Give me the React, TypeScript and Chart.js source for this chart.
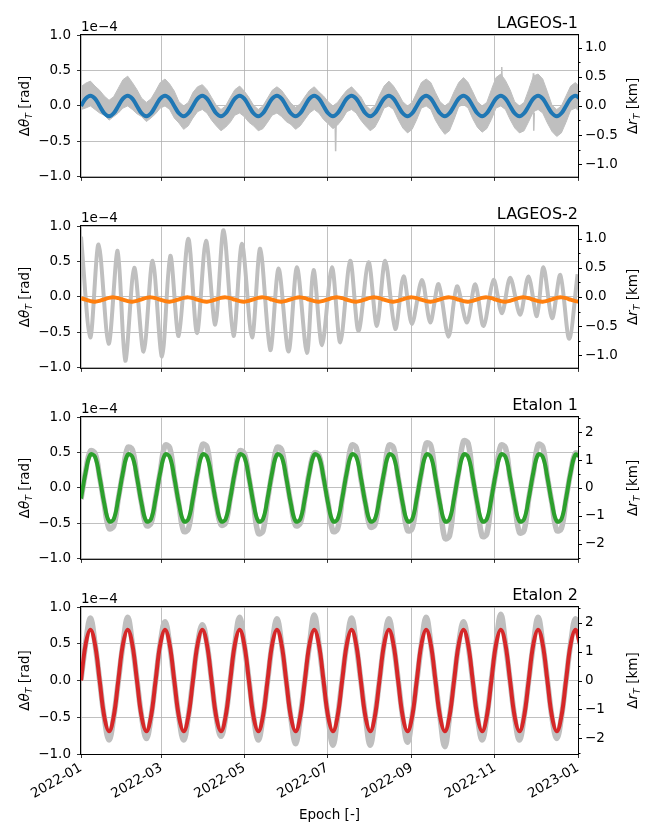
import { useEffect, useRef } from "react";
import { Chart, registerables } from "chart.js";

Chart.register(...registerables);

const FONT = '"DejaVu Sans", sans-serif';
const FS = 13.5;
const GRAY = "#bfbfbf";
const GRID = "#b0b0b0";

// x values are days since 2022-01-01, y values are in units of 1e-4 rad
const sampleDays = [
  0, 3.4, 6.9, 10.3, 13.7, 17.1, 20.6, 24.0,
  27.4, 30.8, 34.3, 37.7, 41.1, 44.5, 48.0, 51.4,
  54.8, 58.2, 61.7, 65.1, 68.5, 71.9, 75.4, 78.8,
  82.2, 85.6, 89.1, 92.5, 95.9, 99.3, 102.8, 106.2,
  109.6, 113.0, 116.5, 119.9, 123.3, 126.7, 130.2, 133.6,
  137.0, 140.4, 143.9, 147.3, 150.7, 154.1, 157.6, 161.0,
  164.4, 167.8, 171.3, 174.7, 178.1, 181.5, 185.0, 188.4,
  191.8, 195.2, 198.7, 202.1, 205.5, 208.9, 212.4, 215.8,
  219.2, 222.6, 226.1, 229.5, 232.9, 236.3, 239.8, 243.2,
  246.6, 250.0, 253.5, 256.9, 260.3, 263.7, 267.2, 270.6,
  274.0, 277.4, 280.9, 284.3, 287.7, 291.1, 294.6, 298.0,
  301.4, 304.8, 308.3, 311.7, 315.1, 318.5, 322.0, 325.4,
  328.8, 332.2, 335.7, 339.1, 342.5, 345.9, 349.4, 352.8,
  356.2, 359.6, 363.1, 366.5,
];

const xTickDays = [0, 59, 120, 181, 243, 304, 365];
const xTickLabels = ["2022-01", "2022-03", "2022-05", "2022-07", "2022-09", "2022-11", "2023-01"];
const leftTicks = [-1, -0.5, 0, 0.5, 1];
const lageosRightMajor = [-1, -0.5, 0, 0.5, 1];
const lageosRightMinor = [-0.75, -0.25, 0.25, 0.75];
const etalonRightMajor = [-2, -1, 0, 1, 2];
const etalonRightMinor = [-2.5, -1.5, -0.5, 0.5, 1.5, 2.5];

// LAGEOS-1
const lageos1Fit = [
  0, 0.103, 0.145, 0.103, 0, -0.103, -0.145, -0.103,
  0, 0.103, 0.145, 0.103, 0, -0.103, -0.145, -0.103,
  0, 0.103, 0.145, 0.103, 0, -0.103, -0.145, -0.103,
  0, 0.103, 0.145, 0.103, 0, -0.103, -0.145, -0.103,
  0, 0.103, 0.145, 0.103, 0, -0.103, -0.145, -0.103,
  0, 0.103, 0.145, 0.103, 0, -0.103, -0.145, -0.103,
  0, 0.103, 0.145, 0.103, 0, -0.103, -0.145, -0.103,
  0, 0.103, 0.145, 0.103, 0, -0.103, -0.145, -0.103,
  0, 0.103, 0.145, 0.103, 0, -0.103, -0.145, -0.103,
  0, 0.103, 0.145, 0.103, 0, -0.103, -0.145, -0.103,
  0, 0.103, 0.145, 0.103, 0, -0.103, -0.145, -0.103,
  0, 0.103, 0.145, 0.103, 0, -0.103, -0.145, -0.103,
  0, 0.103, 0.145, 0.103, 0, -0.103, -0.145, -0.103,
  0, 0.103, 0.145, 0.103,
];
const lageos1Upper = [
  0.27, 0.32, 0.35, 0.28, 0.22, 0.14, 0.08, 0.13,
  0.25, 0.37, 0.42, 0.33, 0.23, 0.11, 0.05, 0.10,
  0.21, 0.33, 0.38, 0.31, 0.21, 0.06, 0.00, 0.05,
  0.19, 0.27, 0.30, 0.23, 0.12, 0.01, -0.05, 0.00,
  0.12, 0.23, 0.28, 0.21, 0.12, 0.01, -0.05, 0.00,
  0.11, 0.22, 0.27, 0.22, 0.13, 0.04, -0.02, 0.03,
  0.13, 0.22, 0.27, 0.20, 0.14, 0.06, 0.00, 0.05,
  0.14, 0.22, 0.27, 0.20, 0.13, 0.01, -0.05, 0.00,
  0.15, 0.28, 0.35, 0.28, 0.18, 0.06, 0.00, 0.05,
  0.19, 0.33, 0.38, 0.33, 0.19, 0.06, 0.00, 0.05,
  0.20, 0.33, 0.40, 0.33, 0.20, 0.06, 0.00, 0.05,
  0.23, 0.40, 0.45, 0.36, 0.23, 0.06, 0.00, 0.05,
  0.23, 0.42, 0.45, 0.38, 0.20, 0.01, -0.05, 0.00,
  0.14, 0.28, 0.33, 0.26,
];
const lageos1Lower = [
  -0.05, -0.03, 0.00, -0.05, -0.10, -0.13, -0.20, -0.15,
  -0.10, -0.03, 0.00, -0.05, -0.11, -0.15, -0.22, -0.17,
  -0.11, -0.03, 0.00, -0.05, -0.17, -0.24, -0.33, -0.28,
  -0.17, -0.08, -0.05, -0.10, -0.20, -0.28, -0.35, -0.30,
  -0.23, -0.13, -0.10, -0.15, -0.23, -0.28, -0.35, -0.32,
  -0.23, -0.13, -0.10, -0.15, -0.22, -0.26, -0.33, -0.28,
  -0.19, -0.10, -0.05, -0.10, -0.19, -0.25, -0.32, -0.27,
  -0.19, -0.08, -0.05, -0.10, -0.20, -0.28, -0.35, -0.30,
  -0.18, -0.03, 0.00, -0.05, -0.19, -0.31, -0.38, -0.33,
  -0.19, -0.03, 0.00, -0.05, -0.20, -0.31, -0.40, -0.35,
  -0.19, -0.01, 0.02, -0.03, -0.18, -0.30, -0.37, -0.32,
  -0.19, -0.03, 0.00, -0.05, -0.19, -0.31, -0.38, -0.35,
  -0.22, -0.08, -0.05, -0.10, -0.24, -0.36, -0.43, -0.38,
  -0.23, -0.06, -0.03, -0.08,
];
const lageos1SpikeDays = [186.6, 187.0, 187.4, 187.5, 308.6, 309.0, 309.4, 309.5, 331.8, 332.2, 332.5, 332.9];
const lageos1SpikeVals = [-0.15, -0.64, -0.2, null, 0.3, 0.55, 0.3, null, 0.1, 0.46, -0.35, -0.1];

// LAGEOS-2
const lageos2Fit = [
  -0.017, -0.039, -0.059, -0.066, -0.055, -0.033, -0.013, -0.006,
  -0.017, -0.039, -0.059, -0.066, -0.055, -0.033, -0.013, -0.006,
  -0.017, -0.039, -0.059, -0.066, -0.055, -0.033, -0.013, -0.006,
  -0.017, -0.039, -0.059, -0.066, -0.055, -0.033, -0.013, -0.006,
  -0.017, -0.039, -0.059, -0.066, -0.055, -0.033, -0.013, -0.006,
  -0.017, -0.039, -0.059, -0.066, -0.055, -0.033, -0.013, -0.006,
  -0.017, -0.039, -0.059, -0.066, -0.055, -0.033, -0.013, -0.006,
  -0.017, -0.039, -0.059, -0.066, -0.055, -0.033, -0.013, -0.006,
  -0.017, -0.039, -0.059, -0.066, -0.055, -0.033, -0.013, -0.006,
  -0.017, -0.039, -0.059, -0.066, -0.055, -0.033, -0.013, -0.006,
  -0.017, -0.039, -0.059, -0.066, -0.055, -0.033, -0.013, -0.006,
  -0.017, -0.039, -0.059, -0.066, -0.055, -0.033, -0.013, -0.006,
  -0.017, -0.039, -0.059, -0.066, -0.055, -0.033, -0.013, -0.006,
  -0.017, -0.039, -0.059, -0.066,
];
const lageos2ResidDays = [
  0, 6.8, 12.9, 20.3, 26.9, 32.5, 39.1, 46.0, 52.6, 59.5, 65.6, 71.7, 78.8, 85.2,
  91.8, 98.6, 104.7, 112.0, 118.2, 125.6, 131.6, 139.0, 145.1, 152.4, 158.6, 165.9,
  170.8, 177.0, 184.3, 190.4, 197.7, 203.8, 211.2, 217.3, 223.4, 230.8, 236.9, 243.0,
  250.4, 256.5, 262.6, 269.9, 276.1, 283.4, 289.5, 295.6, 303.0, 309.1, 315.2, 322.5,
  328.6, 334.8, 339.6, 346.0, 352.0, 358.5, 364.7,
];
const lageos2ResidVals = [
  0.85, -0.57, 0.74, -0.66, 0.65, -0.9, 0.41, -0.77, 0.51, -0.84, 0.58, -0.55, 0.82, -0.51,
  0.79, -0.39, 0.94, -0.55, 0.75, -0.57, 0.68, -0.75, 0.40, -0.77, 0.42, -0.79,
  0.38, -0.68, 0.42, -0.64, 0.51, -0.48, 0.49, -0.41, 0.51, -0.45, 0.29, -0.38,
  0.24, -0.36, 0.18, -0.56, 0.15, -0.36, 0.18, -0.41, 0.24, -0.23, 0.27, -0.25,
  0.29, -0.27, 0.42, -0.30, 0.31, -0.59, 0.32,
];

// Etalon 1
const etalon1Fit = [
  -0.15, 0.22, 0.47, 0.44, 0.15, -0.22, -0.47, -0.44,
  -0.15, 0.22, 0.47, 0.44, 0.15, -0.22, -0.47, -0.44,
  -0.15, 0.22, 0.47, 0.44, 0.15, -0.22, -0.47, -0.44,
  -0.15, 0.22, 0.47, 0.44, 0.15, -0.22, -0.47, -0.44,
  -0.15, 0.22, 0.47, 0.44, 0.15, -0.22, -0.47, -0.44,
  -0.15, 0.22, 0.47, 0.44, 0.15, -0.22, -0.47, -0.44,
  -0.15, 0.22, 0.47, 0.44, 0.15, -0.22, -0.47, -0.44,
  -0.15, 0.22, 0.47, 0.44, 0.15, -0.22, -0.47, -0.44,
  -0.15, 0.22, 0.47, 0.44, 0.15, -0.22, -0.47, -0.44,
  -0.15, 0.22, 0.47, 0.44, 0.15, -0.22, -0.47, -0.44,
  -0.15, 0.22, 0.47, 0.44, 0.15, -0.22, -0.47, -0.44,
  -0.15, 0.22, 0.47, 0.44, 0.15, -0.22, -0.47, -0.44,
  -0.15, 0.22, 0.47, 0.44, 0.15, -0.22, -0.47, -0.44,
  -0.15, 0.22, 0.47, 0.44,
];
const etalon1Resid = [
  -0.16, 0.23, 0.52, 0.49, 0.15, -0.23, -0.57, -0.54,
  -0.15, 0.22, 0.57, 0.54, 0.16, -0.22, -0.53, -0.50,
  -0.14, 0.23, 0.60, 0.57, 0.15, -0.23, -0.61, -0.58,
  -0.16, 0.22, 0.61, 0.58, 0.14, -0.22, -0.52, -0.49,
  -0.15, 0.21, 0.52, 0.49, 0.15, -0.23, -0.64, -0.61,
  -0.17, 0.22, 0.57, 0.54, 0.16, -0.22, -0.53, -0.50,
  -0.15, 0.23, 0.49, 0.46, 0.15, -0.21, -0.61, -0.58,
  -0.16, 0.22, 0.60, 0.57, 0.14, -0.22, -0.55, -0.52,
  -0.15, 0.21, 0.60, 0.57, 0.15, -0.23, -0.60, -0.57,
  -0.16, 0.22, 0.63, 0.60, 0.16, -0.24, -0.71, -0.68,
  -0.17, 0.23, 0.66, 0.63, 0.15, -0.23, -0.68, -0.65,
  -0.16, 0.22, 0.60, 0.57, 0.14, -0.22, -0.63, -0.60,
  -0.15, 0.21, 0.61, 0.58, 0.15, -0.22, -0.60, -0.57,
  -0.16, 0.22, 0.49, 0.46,
];

// Etalon 2
const etalon2Fit = [
  0, 0.49, 0.69, 0.49, 0, -0.49, -0.69, -0.49,
  0, 0.49, 0.69, 0.49, 0, -0.49, -0.69, -0.49,
  0, 0.49, 0.69, 0.49, 0, -0.49, -0.69, -0.49,
  0, 0.49, 0.69, 0.49, 0, -0.49, -0.69, -0.49,
  0, 0.49, 0.69, 0.49, 0, -0.49, -0.69, -0.49,
  0, 0.49, 0.69, 0.49, 0, -0.49, -0.69, -0.49,
  0, 0.49, 0.69, 0.49, 0, -0.49, -0.69, -0.49,
  0, 0.49, 0.69, 0.49, 0, -0.49, -0.69, -0.49,
  0, 0.49, 0.69, 0.49, 0, -0.49, -0.69, -0.49,
  0, 0.49, 0.69, 0.49, 0, -0.49, -0.69, -0.49,
  0, 0.49, 0.69, 0.49, 0, -0.49, -0.69, -0.49,
  0, 0.49, 0.69, 0.49, 0, -0.49, -0.69, -0.49,
  0, 0.49, 0.69, 0.49, 0, -0.49, -0.69, -0.49,
  0, 0.49, 0.69, 0.49,
];
const etalon2Resid = [
  0.01, 0.50, 0.85, 0.50, 0, -0.50, -0.81, -0.50,
  -0.01, 0.49, 0.86, 0.50, 0.01, -0.49, -0.79, -0.50,
  0, 0.50, 0.80, 0.49, -0.01, -0.50, -0.81, -0.49,
  0.01, 0.49, 0.76, 0.50, 0, -0.50, -0.76, -0.50,
  0, 0.50, 0.86, 0.49, 0.01, -0.49, -0.81, -0.50,
  -0.01, 0.50, 0.84, 0.50, 0, -0.50, -0.86, -0.49,
  0, 0.49, 0.89, 0.50, -0.01, -0.50, -0.88, -0.50,
  0.01, 0.50, 0.85, 0.49, 0, -0.49, -0.88, -0.50,
  0, 0.50, 0.84, 0.50, 0.01, -0.50, -0.84, -0.49,
  -0.01, 0.49, 0.86, 0.50, 0, -0.50, -0.90, -0.50,
  0, 0.50, 0.80, 0.49, -0.01, -0.49, -0.81, -0.50,
  0.01, 0.50, 0.90, 0.50, 0, -0.50, -0.81, -0.49,
  0, 0.49, 0.86, 0.50, 0.01, -0.50, -0.79, -0.50,
  0, 0.50, 0.84, 0.50,
];

const pts = (xs: number[], ys: (number | null)[]) => xs.map((x, i) => ({ x, y: ys[i] }));

const fmt = (v: number, digits: number) => (v < 0 ? "\u2212" : "") + Math.abs(v).toFixed(digits);

const fitLine = (data: number[], color: string) => ({
  data: pts(sampleDays, data),
  borderColor: color,
  borderWidth: 4,
  tension: 0.4,
  order: 0,
  clip: 0,
});

const grayLine = (xs: number[], ys: (number | null)[], width: number, tension: number) => ({
  data: pts(xs, ys),
  borderColor: GRAY,
  borderWidth: width,
  tension,
  order: 1,
  clip: 0,
});

type Part = { t: string; it?: boolean; sub?: boolean };

// mathtext-like rotated label, baseline at screen x = bx
function drawRotatedMath(ctx: CanvasRenderingContext2D, parts: Part[], bx: number, cy: number, size: number) {
  const fontOf = (p: Part) => `${p.it ? "italic " : ""}${p.sub ? size * 0.7 : size}px ${FONT}`;
  let total = 0;
  const widths = parts.map((p) => {
    ctx.font = fontOf(p);
    const w = ctx.measureText(p.t).width;
    total += w;
    return w;
  });
  ctx.save();
  ctx.translate(bx, cy);
  ctx.rotate(-Math.PI / 2);
  ctx.textAlign = "left";
  ctx.textBaseline = "alphabetic";
  let x = -total / 2;
  parts.forEach((p, i) => {
    ctx.font = fontOf(p);
    ctx.fillText(p.t, x, p.sub ? size * 0.22 : 0);
    x += widths[i];
  });
  ctx.restore();
}

interface PanelProps {
  name: string;
  datasets: any[];
  rightMax: number;
  rightMajor: number[];
  rightMinor: number[];
  rightDigits: number;
  bottom: boolean;
  top: number;
  height: number;
}

function Panel(props: PanelProps) {
  const canvasRef = useRef<HTMLCanvasElement | null>(null);

  useEffect(() => {
    if (!canvasRef.current) return;
    const p = props;
    const rightAll = [...p.rightMajor, ...p.rightMinor].sort((a, b) => a - b);

    const framePlugin = {
      id: "frame",
      afterDraw(chart: any) {
        const { ctx, chartArea: a } = chart;
        const ys = chart.scales.y2;
        ctx.save();
        ctx.strokeStyle = "#000";
        ctx.lineWidth = 1;
        ctx.beginPath();
        p.rightMajor.forEach((v) => {
          const y = Math.round(ys.getPixelForValue(v)) + 0.5;
          ctx.moveTo(a.right, y);
          ctx.lineTo(a.right + 4, y);
        });
        p.rightMinor.forEach((v) => {
          const y = Math.round(ys.getPixelForValue(v)) + 0.5;
          ctx.moveTo(a.right, y);
          ctx.lineTo(a.right + 2.5, y);
        });
        ctx.stroke();
        ctx.strokeRect(a.left - 0.5, a.top - 0.5, a.right - a.left + 1, a.bottom - a.top + 1);

        ctx.fillStyle = "#000";
        ctx.textBaseline = "alphabetic";
        ctx.font = `16px ${FONT}`;
        ctx.textAlign = "right";
        ctx.fillText(p.name, a.right, a.top - 7);
        ctx.font = `${FS}px ${FONT}`;
        ctx.textAlign = "left";
        ctx.fillText("1e\u22124", a.left, a.top - 4);
        const cy = (a.top + a.bottom) / 2;
        drawRotatedMath(ctx, [{ t: "\u0394" }, { t: "\u03b8", it: true }, { t: "T", it: true, sub: true }, { t: " [rad]" }], a.left - 52, cy, FS);
        drawRotatedMath(ctx, [{ t: "\u0394" }, { t: "r", it: true }, { t: "T", it: true, sub: true }, { t: " [km]" }], a.right + 59, cy, FS);
        if (p.bottom) {
          ctx.font = `${FS}px ${FONT}`;
          ctx.textAlign = "center";
          ctx.fillText("Epoch [-]", (a.left + a.right) / 2, a.bottom + 65);
        }
        ctx.restore();
      },
    };

    const chart = new Chart(canvasRef.current, {
      type: "line",
      data: { datasets: p.datasets },
      options: {
        animation: false,
        responsive: false,
        events: [],
        layout: { padding: { top: 35, left: 0, right: 0, bottom: 0 } },
        elements: { point: { radius: 0 } },
        plugins: { legend: { display: false }, tooltip: { enabled: false } },
        scales: {
          x: {
            type: "linear",
            position: "bottom",
            min: 0,
            max: 365,
            afterBuildTicks: (s: any) => {
              s.ticks = xTickDays.map((v) => ({ value: v }));
            },
            afterFit: (s: any) => {
              s.height = p.height - 35 - 147;
            },
            grid: { color: GRID, lineWidth: 0.8, tickColor: "#000", tickLength: 4 },
            border: { display: false },
            ticks: {
              display: p.bottom,
              autoSkip: false,
              maxRotation: 30,
              minRotation: 30,
              padding: 2,
              color: "#000",
              font: { family: FONT, size: FS },
              callback: (_v: any, i: number) => xTickLabels[i],
            },
          },
          y: {
            position: "left",
            min: -1,
            max: 1,
            afterBuildTicks: (s: any) => {
              s.ticks = leftTicks.map((v) => ({ value: v }));
            },
            afterFit: (s: any) => {
              s.width = 81;
            },
            grid: { color: GRID, lineWidth: 0.8, tickColor: "#000", tickLength: 4 },
            border: { display: false },
            ticks: {
              autoSkip: false,
              padding: 6,
              color: "#000",
              font: { family: FONT, size: FS },
              callback: (v: any) => fmt(v, 1),
            },
          },
          y2: {
            position: "right",
            min: -p.rightMax,
            max: p.rightMax,
            afterBuildTicks: (s: any) => {
              s.ticks = rightAll.map((v) => ({ value: v }));
            },
            afterFit: (s: any) => {
              s.width = 82;
            },
            grid: { drawOnChartArea: false, tickColor: "rgba(0,0,0,0)", tickLength: 4 },
            border: { display: false },
            ticks: {
              autoSkip: false,
              padding: 3,
              color: "#000",
              font: { family: FONT, size: FS },
              callback: (v: any) => (p.rightMajor.includes(v) ? fmt(v, p.rightDigits) : ""),
            },
          },
        },
      } as any,
      plugins: [framePlugin],
    });

    return () => chart.destroy();
  }, []);

  return (
    <div style={{ position: "absolute", left: 0, top: props.top }}>
      <canvas
        ref={canvasRef}
        width={660}
        height={props.height}
        style={{ display: "block", width: 660, height: props.height }}
      />
    </div>
  );
}

const lageos1Sets = [
  fitLine(lageos1Fit, "#1f77b4"),
  {
    data: pts(sampleDays, lageos1Upper),
    borderColor: GRAY,
    backgroundColor: GRAY,
    borderWidth: 1,
    fill: "+1",
    tension: 0,
    order: 1,
    clip: 0,
  },
  {
    data: pts(sampleDays, lageos1Lower),
    borderColor: GRAY,
    borderWidth: 1,
    fill: false,
    tension: 0,
    order: 1,
    clip: 0,
  },
  grayLine(lageos1SpikeDays, lageos1SpikeVals, 1.5, 0),
];

const lageos2Sets = [
  fitLine(lageos2Fit, "#ff7f0e"),
  grayLine(lageos2ResidDays, lageos2ResidVals, 4, 0.3),
];

const etalon1Sets = [
  fitLine(etalon1Fit, "#2ca02c"),
  grayLine(sampleDays, etalon1Resid, 5.5, 0.4),
];

const etalon2Sets = [
  fitLine(etalon2Fit, "#d62728"),
  grayLine(sampleDays, etalon2Resid, 5.5, 0.4),
];

export default function App() {
  return (
    <div style={{ position: "absolute", left: 0, top: 0, width: 660, height: 840, background: "#fff" }}>
      <Panel name="LAGEOS-1" datasets={lageos1Sets} rightMax={1.22} rightMajor={lageosRightMajor} rightMinor={lageosRightMinor} rightDigits={1} bottom={false} top={0} height={191} />
      <Panel name="LAGEOS-2" datasets={lageos2Sets} rightMax={1.216} rightMajor={lageosRightMajor} rightMinor={lageosRightMinor} rightDigits={1} bottom={false} top={191} height={191} />
      <Panel name="Etalon 1" datasets={etalon1Sets} rightMax={2.55} rightMajor={etalonRightMajor} rightMinor={etalonRightMinor} rightDigits={0} bottom={false} top={382} height={191} />
      <Panel name="Etalon 2" datasets={etalon2Sets} rightMax={2.55} rightMajor={etalonRightMajor} rightMinor={etalonRightMinor} rightDigits={0} bottom={true} top={572} height={268} />
    </div>
  );
}
